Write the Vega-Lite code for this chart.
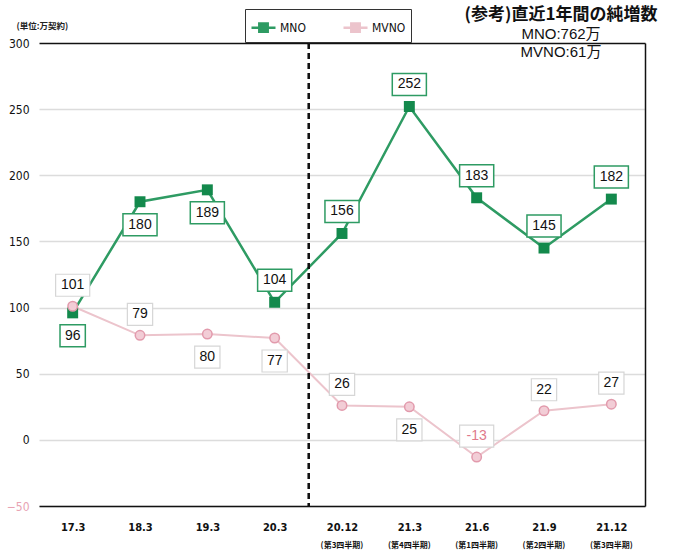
{
  "$schema": "https://vega.github.io/schema/vega-lite/v6.json",
  "width": 606,
  "height": 463,
  "autosize": "none",
  "padding": {"left": 39, "top": 43, "right": 36, "bottom": 48},
  "background": "white",
  "config": {"view": {"stroke": null}, "font": "Liberation Sans"},
  "title": {
    "text": "(参考)直近1年間の純増数",
    "subtitle": ["MNO:762万", "MVNO:61万"],
    "anchor": "end",
    "align": "center",
    "frame": "group",
    "dx": -84,
    "offset": -52,
    "font": "Noto Sans CJK JP",
    "fontSize": 17,
    "fontWeight": "bold",
    "color": "#111",
    "subtitleFont": "Liberation Sans, Noto Sans CJK JP",
    "subtitleFontSize": 15,
    "subtitleColor": "#111",
    "subtitlePadding": 3,
    "subtitleLineHeight": 18
  },
  "data": {
    "values": [
      {"period": "17.3", "sub": "", "MNO": 96, "MVNO": 101},
      {"period": "18.3", "sub": "", "MNO": 180, "MVNO": 79},
      {"period": "19.3", "sub": "", "MNO": 189, "MVNO": 80},
      {"period": "20.3", "sub": "", "MNO": 104, "MVNO": 77},
      {"period": "20.12", "sub": "(第3四半期)", "MNO": 156, "MVNO": 26},
      {"period": "21.3", "sub": "(第4四半期)", "MNO": 252, "MVNO": 25},
      {"period": "21.6", "sub": "(第1四半期)", "MNO": 183, "MVNO": -13},
      {"period": "21.9", "sub": "(第2四半期)", "MNO": 145, "MVNO": 22},
      {"period": "21.12", "sub": "(第3四半期)", "MNO": 182, "MVNO": 27}
    ]
  },
  "encoding": {
    "x": {
      "field": "period",
      "type": "ordinal",
      "sort": null,
      "scale": {"type": "point", "padding": 0.5},
      "axis": {
        "title": null,
        "domainColor": "#111",
        "domainWidth": 1.5,
        "ticks": false,
        "labelPadding": 15,
        "labelFont": "DejaVu Sans Condensed, Liberation Sans",
        "labelFontWeight": "bold",
        "labelFontSize": 11,
        "labelColor": "#111",
        "labelAngle": 0,
        "grid": false
      }
    }
  },
  "layer": [
    {
      "mark": {"type": "line", "strokeWidth": 2.5},
      "encoding": {
        "y": {
          "field": "MNO",
          "type": "quantitative",
          "scale": {"domain": [-50, 300], "nice": false, "zero": false},
          "axis": {
            "values": [-50, 0, 50, 100, 150, 200, 250, 300],
            "domain": false,
            "ticks": false,
            "labelPadding": 10,
            "labelFont": "DejaVu Sans Condensed, Liberation Sans",
            "labelFontSize": 12,
            "labelColor": {"condition": {"test": "datum.value < 0", "value": "#e8a3b3"}, "value": "#111"},
            "gridColor": {"condition": {"test": "datum.value == 300", "value": "#111"}, "value": "#dcdcdc"},
            "gridWidth": 1.5,
            "title": "(単位:万契約)",
            "titleAngle": 0,
            "titleX": -23,
            "titleY": -18,
            "titleAlign": "left",
            "titleBaseline": "middle",
            "titleFontSize": 8.5,
            "titleFontWeight": "bold",
            "titleFont": "Noto Sans CJK JP",
            "titleColor": "#222"
          }
        },
        "color": {
          "datum": "MNO",
          "type": "nominal",
          "scale": {"domain": ["MNO", "MVNO"], "range": ["#2e9b63", "#ecc4cc"]},
          "legend": {
            "orient": "none",
            "legendX": 206,
            "legendY": -34,
            "direction": "horizontal",
            "title": null,
            "strokeColor": "#333",
            "padding": 5,
            "symbolType": "M-1,0H1M-0.35,-0.35H0.35V0.35H-0.35Z",
            "symbolSize": 576,
            "symbolStrokeWidth": 2.5,
            "labelFont": "DejaVu Sans Condensed, Liberation Sans",
            "labelFontSize": 12,
            "labelColor": "#111",
            "labelOffset": 3,
            "columnPadding": 32,
            "encode": {"symbols": {"update": {"fill": {"scale": "color", "field": "value"}}}}
          }
        }
      }
    },
    {
      "mark": {"type": "line", "strokeWidth": 2},
      "encoding": {
        "y": {
          "field": "MVNO",
          "type": "quantitative",
          "scale": {"domain": [-50, 300], "nice": false, "zero": false},
          "axis": {
            "orient": "right",
            "domain": true,
            "domainColor": "#111",
            "domainWidth": 1.5,
            "ticks": false,
            "labels": false,
            "grid": false,
            "title": null
          }
        },
        "color": {"datum": "MVNO", "type": "nominal"}
      }
    },
    {
      "mark": {"type": "point", "shape": "square", "filled": true, "color": "#13894c", "size": 120, "opacity": 1},
      "encoding": {"y": {"field": "MNO", "type": "quantitative", "axis": null}}
    },
    {
      "mark": {"type": "point", "shape": "circle", "filled": true, "fill": "#f2cdd6", "stroke": "#e29aac", "strokeWidth": 1.5, "size": 90, "opacity": 1},
      "encoding": {"y": {"field": "MVNO", "type": "quantitative", "axis": null}}
    },
    {
      "mark": {"type": "rule", "strokeDash": [6, 4], "strokeWidth": 1.5, "color": "#111"},
      "encoding": {"x": {"datum": "20.3", "type": "ordinal"}, "xOffset": {"value": 34}}
    },
    {
      "mark": {"type": "text", "fontSize": 8, "fontWeight": "bold", "font": "Noto Sans CJK JP", "dy": 40, "color": "#111"},
      "encoding": {"y": {"datum": -50, "type": "quantitative", "axis": null}, "text": {"field": "sub"}}
    },
    {
      "transform": [{"filter": "indexof(['17.3','18.3','19.3'], datum.period) < 0"}],
      "layer": [
        {
          "mark": {"type": "point", "filled": true, "fill": "white", "stroke": "#2e9b63", "strokeWidth": 1.5, "size": 484, "opacity": 1},
          "encoding": {
            "y": {"field": "MNO", "type": "quantitative", "axis": null},
            "yOffset": {"value": -22},
            "shape": {"condition": {"test": "datum.MNO < 100", "value": "M-1.15,-1H1.15V1H-1.15Z"}, "value": "M-1.55,-1H1.55V1H-1.55Z"}
          }
        },
        {
          "mark": {"type": "text", "fontSize": 14, "color": "#111"},
          "encoding": {
            "y": {"field": "MNO", "type": "quantitative", "axis": null},
            "yOffset": {"value": -22},
            "text": {"field": "MNO"}
          }
        }
      ]
    },
    {
      "transform": [{"filter": "indexof(['17.3','18.3','19.3'], datum.period) >= 0"}],
      "layer": [
        {
          "mark": {"type": "point", "filled": true, "fill": "white", "stroke": "#2e9b63", "strokeWidth": 1.5, "size": 484, "opacity": 1},
          "encoding": {
            "y": {"field": "MNO", "type": "quantitative", "axis": null},
            "yOffset": {"value": 23},
            "shape": {"condition": {"test": "datum.MNO < 100", "value": "M-1.15,-1H1.15V1H-1.15Z"}, "value": "M-1.55,-1H1.55V1H-1.55Z"}
          }
        },
        {
          "mark": {"type": "text", "fontSize": 14, "color": "#111"},
          "encoding": {
            "y": {"field": "MNO", "type": "quantitative", "axis": null},
            "yOffset": {"value": 23},
            "text": {"field": "MNO"}
          }
        }
      ]
    },
    {
      "transform": [{"filter": "indexof(['19.3','20.3','21.3'], datum.period) < 0"}],
      "layer": [
        {
          "mark": {"type": "point", "filled": true, "fill": "white", "stroke": "#d6d6d6", "strokeWidth": 1.2, "size": 484, "opacity": 1},
          "encoding": {
            "y": {"field": "MVNO", "type": "quantitative", "axis": null},
            "yOffset": {"value": -21},
            "shape": {"condition": {"test": "datum.MVNO >= 100 || datum.MVNO < 0", "value": "M-1.55,-1H1.55V1H-1.55Z"}, "value": "M-1.15,-1H1.15V1H-1.15Z"}
          }
        },
        {
          "mark": {"type": "text", "fontSize": 14},
          "encoding": {
            "y": {"field": "MVNO", "type": "quantitative", "axis": null},
            "yOffset": {"value": -21},
            "text": {"field": "MVNO"},
            "color": {"condition": {"test": "datum.MVNO < 0", "value": "#e07a8c"}, "value": "#111"}
          }
        }
      ]
    },
    {
      "transform": [{"filter": "indexof(['19.3','20.3','21.3'], datum.period) >= 0"}],
      "layer": [
        {
          "mark": {"type": "point", "filled": true, "fill": "white", "stroke": "#d6d6d6", "strokeWidth": 1.2, "size": 484, "opacity": 1},
          "encoding": {
            "y": {"field": "MVNO", "type": "quantitative", "axis": null},
            "yOffset": {"value": 23},
            "shape": {"condition": {"test": "datum.MVNO >= 100 || datum.MVNO < 0", "value": "M-1.55,-1H1.55V1H-1.55Z"}, "value": "M-1.15,-1H1.15V1H-1.15Z"}
          }
        },
        {
          "mark": {"type": "text", "fontSize": 14},
          "encoding": {
            "y": {"field": "MVNO", "type": "quantitative", "axis": null},
            "yOffset": {"value": 23},
            "text": {"field": "MVNO"},
            "color": {"condition": {"test": "datum.MVNO < 0", "value": "#e07a8c"}, "value": "#111"}
          }
        }
      ]
    }
  ],
  "resolve": {"axis": {"y": "independent"}}
}
